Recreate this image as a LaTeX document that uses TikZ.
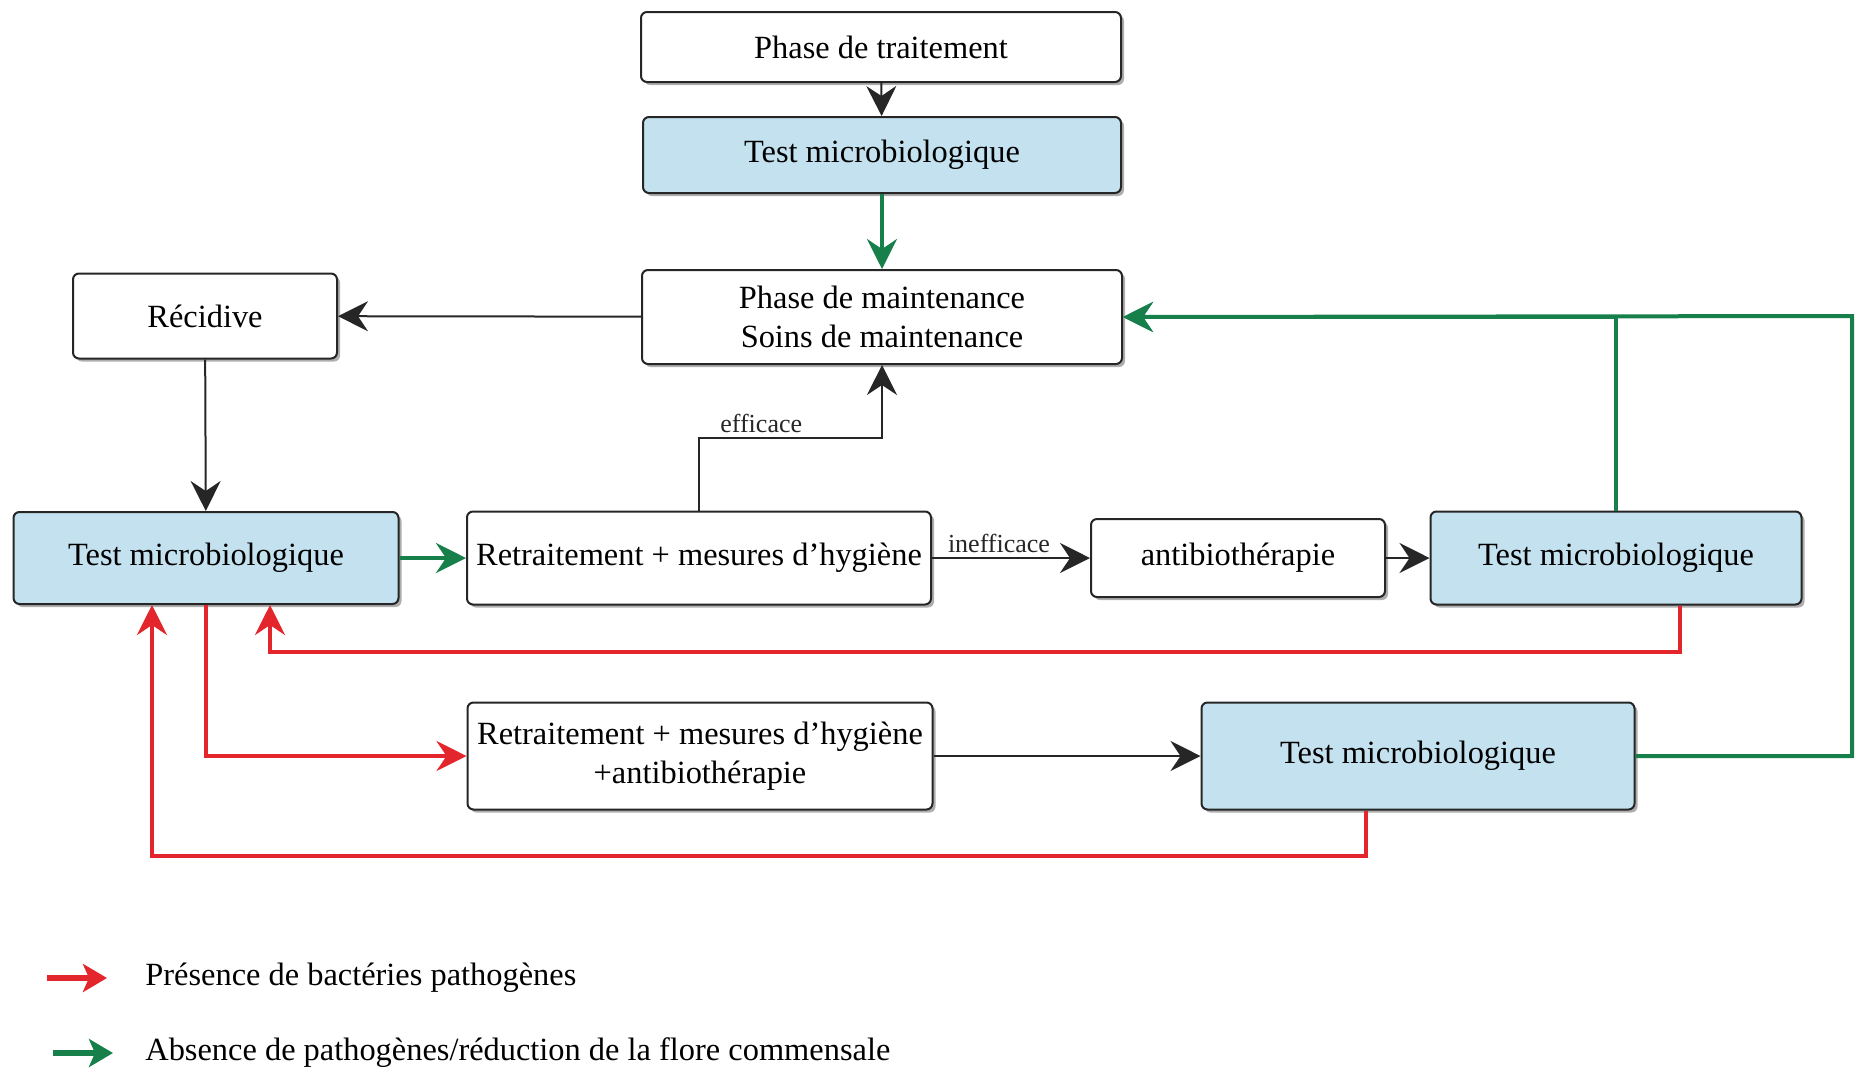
\documentclass[tikz,border=0pt]{standalone}
\usepackage{fontspec}
\setmainfont{Liberation Serif}
\usetikzlibrary{arrows.meta,shadows}
\definecolor{testblue}{HTML}{C3E1EE}
\definecolor{pathored}{HTML}{E3262C}
\definecolor{floragreen}{HTML}{17804A}

\begin{document}
\begin{tikzpicture}[x=0.5pt, y=-0.5pt,
  box/.style    ={draw=black!85, line width=1pt, fill=white,
                  rounded corners=3pt, inner sep=2pt, align=center,
                  font=\fontsize{16.2}{19.5}\selectfont,
                  drop shadow={shadow xshift=1.5pt, shadow yshift=-1.5pt,
                               fill=black!45, opacity=.7}},
  testbox/.style={box, fill=testblue},
  arr/.style    ={-{Stealth[length=15pt, width=15pt, inset=5pt]},
                  line width=1pt, black!85},
  redarr/.style ={arr, pathored, line width=2pt},
  grnarr/.style ={arr, floragreen, line width=2pt},
  legarr/.style ={-{Stealth[length=12pt, width=14pt, inset=3pt]},
                  line width=2.6pt},
  lbl/.style    ={font=\fontsize{13}{15}\selectfont, inner sep=2pt}
]
  \useasboundingbox (0,0) rectangle (1858,1073);

  \node[box,     minimum width=240pt,   minimum height=35pt]   (trait) at ( 881, 47) {Phase de traitement};
  \node[testbox, minimum width=239pt,   minimum height=38pt]   (testA) at ( 882,155) {Test microbiologique};
  \node[box,     minimum width=240pt,   minimum height=47pt]   (maint) at ( 882,317) {Phase de maintenance\\Soins de maintenance};
  \node[box,     minimum width=132pt,   minimum height=42.5pt] (recid) at ( 205,316) {Récidive};
  \node[testbox, minimum width=192.5pt, minimum height=46pt]   (testL) at ( 206,558) {Test microbiologique};
  \node[box,     minimum width=232pt,   minimum height=46.5pt] (retr1) at ( 699,558) {Retraitement + mesures d’hygiène};
  \node[box,     minimum width=147pt,   minimum height=39pt]   (antib) at (1238,558) {antibiothérapie};
  \node[testbox, minimum width=185.5pt, minimum height=46.5pt] (testR) at (1616,558) {Test microbiologique};
  \node[box,     minimum width=232.5pt, minimum height=53.5pt] (retr2) at ( 700,756) {Retraitement + mesures d’hygiène\\+antibiothérapie};
  \node[testbox, minimum width=216.5pt, minimum height=53.5pt] (testB) at (1418,756) {Test microbiologique};

  \coordinate (effc)  at ( 882,438);
  \coordinate (redA)  at (   0,652);
  \coordinate (redB)  at (   0,856);
  \coordinate (grnR)  at (1852,316);

  % main chain
  \draw[arr]    (trait) -- (testA);
  \draw[grnarr] (testA) -- (maint);
  \draw[arr]    (maint) -- (recid);
  \draw[arr]    (recid) -- (testL);
  \draw[grnarr] (testL) -- (retr1);
  \draw[arr]    (retr1.north) |- node[lbl, pos=0.67, above] {efficace} (effc) -- (maint.south);
  \draw[arr]    (retr1) -- node[lbl, above, xshift=-6pt] {inefficace} (antib);
  \draw[arr]    (antib) -- (testR);
  \draw[arr]    (retr2) -- (testB);

  % back to maintenance
  \draw[grnarr] (testR.north) |- (maint.east);
  \draw[grnarr] (testB.east) -| (grnR) -- (maint.east);

  % pathogens found
  \draw[redarr] ([xshift=32pt]testR.south) |- ([xshift=32pt]testL.south |- redA) -- ([xshift=32pt]testL.south);
  \draw[redarr] (testL.south) |- (retr2.west);
  \draw[redarr] ([xshift=-26pt]testB.south) |- ([xshift=-27pt]testL.south |- redB) -- ([xshift=-27pt]testL.south);

  % legend
  \node[anchor=west, inner sep=0pt, font=\fontsize{16.2}{19.5}\selectfont] (legR) at (145, 978) {Présence de bactéries pathogènes};
  \node[anchor=west, inner sep=0pt, font=\fontsize{16.2}{19.5}\selectfont] (legG) at (145,1053) {Absence de pathogènes/réduction de la flore commensale};
  \draw[legarr, pathored]   ([xshift=-49pt]legR.west) -- ([xshift=-19pt]legR.west);
  \draw[legarr, floragreen] ([xshift=-46pt]legG.west) -- ([xshift=-16pt]legG.west);
\end{tikzpicture}
\end{document}
